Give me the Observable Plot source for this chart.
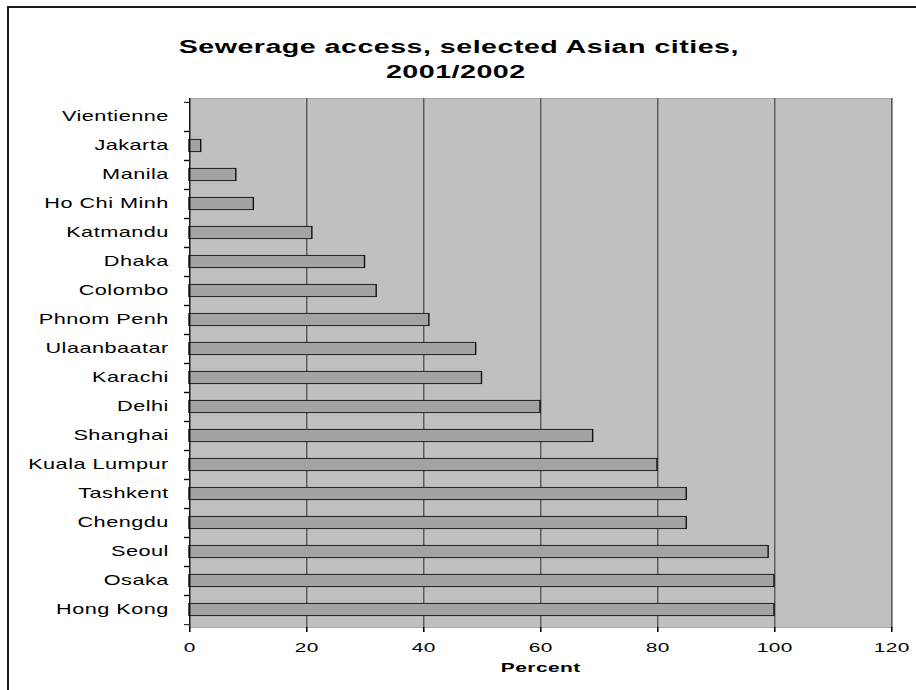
<!DOCTYPE html>
<html>
<head>
<meta charset="utf-8">
<script src="https://cdn.jsdelivr.net/npm/d3@7"></script>
<script src="https://cdn.jsdelivr.net/npm/@observablehq/plot@0.6"></script>
<style>
  html, body { margin: 0; padding: 0; background: #fff; overflow: hidden; }
  #wrap { position: relative; width: 916px; height: 690px; }
  #border { position: absolute; left: 7px; top: 6px; width: 1000px; height: 1000px;
            border-left: 2px solid #1a1a1a; border-top: 2px solid #1a1a1a; pointer-events: none; }
  svg text { letter-spacing: 0.3px; }
  g[aria-label="title"] text { letter-spacing: 0.9px; }
  g[aria-label="xlabel"] text { letter-spacing: 1px; }
</style>
</head>
<body>
<div id="wrap"><div id="border"></div></div>
<script>
// ---- data ----
const cities = ["Vientienne", "Jakarta", "Manila", "Ho Chi Minh", "Katmandu", "Dhaka", "Colombo",
  "Phnom Penh", "Ulaanbaatar", "Karachi", "Delhi", "Shanghai", "Kuala Lumpur", "Tashkent",
  "Chengdu", "Seoul", "Osaka", "Hong Kong"];
const values = [null, 2, 8, 11, 21, 30, 32, 41, 49, 50, 60, 69, 80, 85, 85, 99, 100, 100];
const xTicks = [0, 20, 40, 60, 80, 100, 120];
const titleLines = ["Sewerage access, selected Asian cities,", "2001/2002"];
const xLabel = "Percent";

const data = cities.map((c, i) => ({city: c, value: values[i]}));

// ---- layout (the original chart is horizontally stretched) ----
const S = 1.55;
const W = 916 / S, H = 690;
const mL = 189 / S, mR = 25 / S, mT = 98, mB = 63;
const step = (H - mT - mB) / cities.length;
const barH = 12.6;
const inset = (step - barH) / 2;

const svg = Plot.plot({
  width: W, height: H,
  marginLeft: mL, marginRight: mR, marginTop: mT, marginBottom: mB,
  style: {fontFamily: "'Liberation Sans', Arial, sans-serif", fontSize: "14px", color: "#000", background: "transparent"},
  x: {domain: [0, 120], axis: null},
  y: {domain: cities, padding: 0, axis: null},
  marks: [
    Plot.frame({fill: "#c0c0c0", stroke: "#a8a8a8", strokeWidth: 1}),
    Plot.ruleX(xTicks.filter(d => d > 0), {stroke: "#4a4a4a", strokeWidth: 0.8}),
    Plot.barX(data, {x: "value", y: "city", fill: "#a3a3a3", stroke: "#111", strokeWidth: 0.9,
      insetTop: inset, insetBottom: inset}),
    Plot.ruleX([0], {stroke: "#000", strokeWidth: 0.8}),
    Plot.ruleY([0], {frameAnchor: "bottom", x1: 0, x2: 120, stroke: "#000", strokeWidth: 1}),
    // boundary ticks on the category axis
    Plot.axisY({tickSize: 5 / S, text: null, label: null, dy: -step / 2, stroke: "#000"}),
    Plot.axisY({tickSize: 5 / S, text: null, label: null, dy: step / 2, stroke: "#000"}),
    Plot.axisY({tickSize: 0, tickPadding: 21 / S, fontSize: 14, label: null, fill: "#000"}),
    Plot.axisX({ticks: xTicks, tickSize: 5, tickPadding: 10, fontSize: 13.5, label: null, stroke: "#000", fill: "#000"}),
    Plot.text([titleLines[0]], {frameAnchor: "top", dx: (458 - 540) / S, dy: 39.5 - mT,
      fontSize: 18.5, fontWeight: "bold", fill: "#000", ariaLabel: "title"}),
    Plot.text([titleLines[1]], {frameAnchor: "top", dx: (455 - 540) / S, dy: 64.5 - mT,
      fontSize: 18.5, fontWeight: "bold", fill: "#000", ariaLabel: "title"}),
    Plot.text([xLabel], {frameAnchor: "bottom", dy: 671.5 - (H - mB),
      fontSize: 13.5, fontWeight: "bold", fill: "#000", ariaLabel: "xlabel"})
  ]
});

svg.setAttribute("preserveAspectRatio", "none");
svg.setAttribute("width", 916);
svg.setAttribute("height", 690);
svg.style.width = "916px";
svg.style.height = "690px";
svg.style.maxWidth = "none";
svg.style.display = "block";
document.getElementById("wrap").prepend(svg);
</script>
</body>
</html>
